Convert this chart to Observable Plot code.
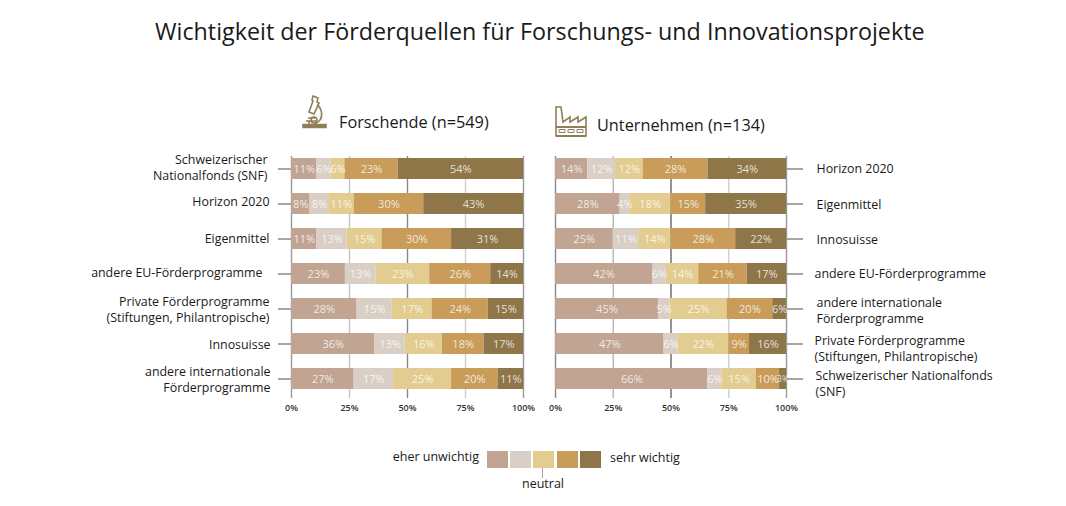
<!DOCTYPE html>
<html lang="de"><head><meta charset="utf-8">
<script src="https://cdn.jsdelivr.net/npm/d3@7"></script>
<script src="https://cdn.jsdelivr.net/npm/@observablehq/plot@0.6"></script>
<style>
html,body{margin:0;padding:0;background:#fff;overflow:hidden}
body{width:1066px;height:506px;position:relative;font-family:"Open Sans",sans-serif;color:#1a1a1a}
.t{position:absolute;white-space:nowrap;line-height:1}
.panel{position:absolute;top:0}
.sw{position:absolute;top:451px;width:21px;height:17px}
</style></head><body>
<div class="t" id="title" style="left:155px;top:20px;font-size:23.3px">Wichtigkeit der Förderquellen für Forschungs- und Innovationsprojekte</div>
<div class="t" style="left:339px;top:114px;font-size:16.3px">Forschende (n=549)</div>
<div class="t" style="left:597px;top:117px;font-size:16.3px">Unternehmen (n=134)</div>
<svg style="position:absolute;left:300px;top:94px" width="30" height="36" viewBox="0 0 30 36" fill="none" stroke="#8f7f55" stroke-width="1.6">
<path d="M3 30.5h23v3H3z" fill="#8f7f55"/>
<path d="M13 2l5 2-1 4 2 1-5 11-5-2 4-11-1-1z"/>
<path d="M17 11c5 3 6 11 3 15-1 2-3 3-5 4M6 27h10M8 24h7M9 27v3" />
<circle cx="14" cy="26" r="3"/>
</svg>
<svg style="position:absolute;left:554px;top:105px" width="34" height="34" viewBox="0 0 34 34" fill="none" stroke="#8f7f55" stroke-width="1.6">
<path d="M2 31V2h5l2 15 7-5v5l8-5v5l8-5v19z" />
<path d="M2 22h30M2 31h30" stroke-width="2"/>
<path d="M5 24.5h6v3H5zM14 24.5h6v3h-6zM23 24.5h6v3h-6z" stroke-width="1"/>
</svg>
<div class="panel" id="left" style="left:0"></div>
<div class="panel" id="right" style="left:540px"></div>
<div class="t" style="right:587px;top:451px;font-size:12.5px">eher unwichtig</div>
<div class="t" style="left:610px;top:452px;font-size:12.5px">sehr wichtig</div>
<div class="t" style="left:522px;top:478px;font-size:12.5px">neutral</div>
<div style="position:absolute;left:542px;top:468px;width:1px;height:10px;background:#aaa"></div>
<div id="legend"></div>
<script>
const levels = ["eher unwichtig", "unwichtig", "neutral", "wichtig", "sehr wichtig"];
const colors = ["#c1a592", "#d9cfc6", "#e3cc8f", "#c99c59", "#8f7649"];
const ticks = [0, 0.25, 0.5, 0.75, 1];

const catsLeft = ["Schweizerischer\nNationalfonds (SNF)", "Horizon 2020", "Eigenmittel", "andere EU-Förderprogramme",
  "Private Förderprogramme\n(Stiftungen, Philantropische)", "Innosuisse", "andere internationale\nFörderprogramme"];
const valuesLeft = [
  [11, 6, 6, 23, 54],
  [8, 8, 11, 30, 43],
  [11, 13, 15, 30, 31],
  [23, 13, 23, 26, 14],
  [28, 15, 17, 24, 15],
  [36, 13, 16, 18, 17],
  [27, 17, 25, 20, 11]
];
const gridLeft = ["#999", "#c4c4c4", "#888", "#cfcfcf", "#999"];
const padLeft = [24, 22, 22, 29, 22, 21, 21];
const dyLeft = [-2, -3, -1, -2, 0, 0, 0];

const catsRight = ["Horizon 2020", "Eigenmittel", "Innosuisse", "andere EU-Förderprogramme",
  "andere internationale\nFörderprogramme", "Private Förderprogramme\n(Stiftungen, Philantropische)", "Schweizerischer Nationalfonds\n(SNF)"];
const valuesRight = [
  [14, 12, 12, 28, 34],
  [28, 4, 18, 15, 35],
  [25, 11, 14, 28, 22],
  [42, 6, 14, 21, 17],
  [45, 5, 25, 20, 6],
  [47, 6, 22, 9, 16],
  [66, 6, 15, 10, 3]
];
const gridRight = ["#888", "#b5b5b5", "#666", "#cfcfcf", "#999"];
const padRight = [30, 30, 30, 28, 30, 28, 29];
const dyRight = [-1.5, -0.5, 0, -1, 1, 4, 4];

function panel(cats, values, gridColors, opts) {
  const rows = cats.flatMap((c, i) => values[i].map((v, j) => ({cat: c, level: levels[j], value: v})));
  const stack = {x: "value", y: "cat", offset: "normalize"};
  return Plot.plot({
    width: opts.width, height: 506,
    marginLeft: opts.ml, marginRight: opts.mr, marginTop: 156, marginBottom: 108,
    style: {fontFamily: '"Open Sans",sans-serif', background: "transparent", overflow: "visible"},
    x: {domain: [0, 1]},
    y: {domain: cats, range: [156, 390], paddingInner: 0.41, paddingOuter: 0},
    color: {domain: levels, range: colors},
    marks: [
      Plot.ruleX(ticks, {x: d => d, stroke: (d, i) => gridColors[i], strokeWidth: 1.4}),
      Plot.barX(rows, Plot.stackX({...stack, fill: "level"})),
      Plot.text(rows, Plot.stackX({...stack, text: d => d.value + "%", fill: "#fff", fillOpacity: 0.78,
        fontSize: d => d.value <= 3 ? 8.5 : 11})),
      Plot.axisY({anchor: opts.anchor, label: null, tickSize: opts.tickSize, stroke: "#777", strokeWidth: 1.3, strokeOpacity: 1, tickFormat: () => ""}),
      ...cats.map((c, i) => Plot.axisY([c], {anchor: opts.anchor, label: null, tickSize: 0, tickPadding: opts.pads[i], dy: opts.dys[i],
        tickFormat: d => d, fontSize: 12.4, fill: "#1a1a1a", lineHeight: 1.3})),
      Plot.axisX({ticks, tickFormat: d => Math.round(d * 100) + "%", tickSize: 0, tickPadding: 6, label: null,
        fontSize: 9, fontWeight: 600, fill: "#333"})
    ]
  });
}
document.getElementById("left").append(panel(catsLeft, valuesLeft, gridLeft,
  {width: 540, ml: 291, mr: 17, anchor: "left", tickSize: 13, pads: padLeft, dys: dyLeft}));
document.getElementById("right").append(panel(catsRight, valuesRight, gridRight,
  {width: 526, ml: 15, mr: 280, anchor: "right", tickSize: 16, pads: padRight, dys: dyRight}));
const lg = document.getElementById("legend");
colors.forEach((c, i) => {
  const d = document.createElement("div");
  d.className = "sw"; d.style.left = (487 + i * 23.2) + "px"; d.style.background = c;
  lg.append(d);
});
</script>
</body></html>
